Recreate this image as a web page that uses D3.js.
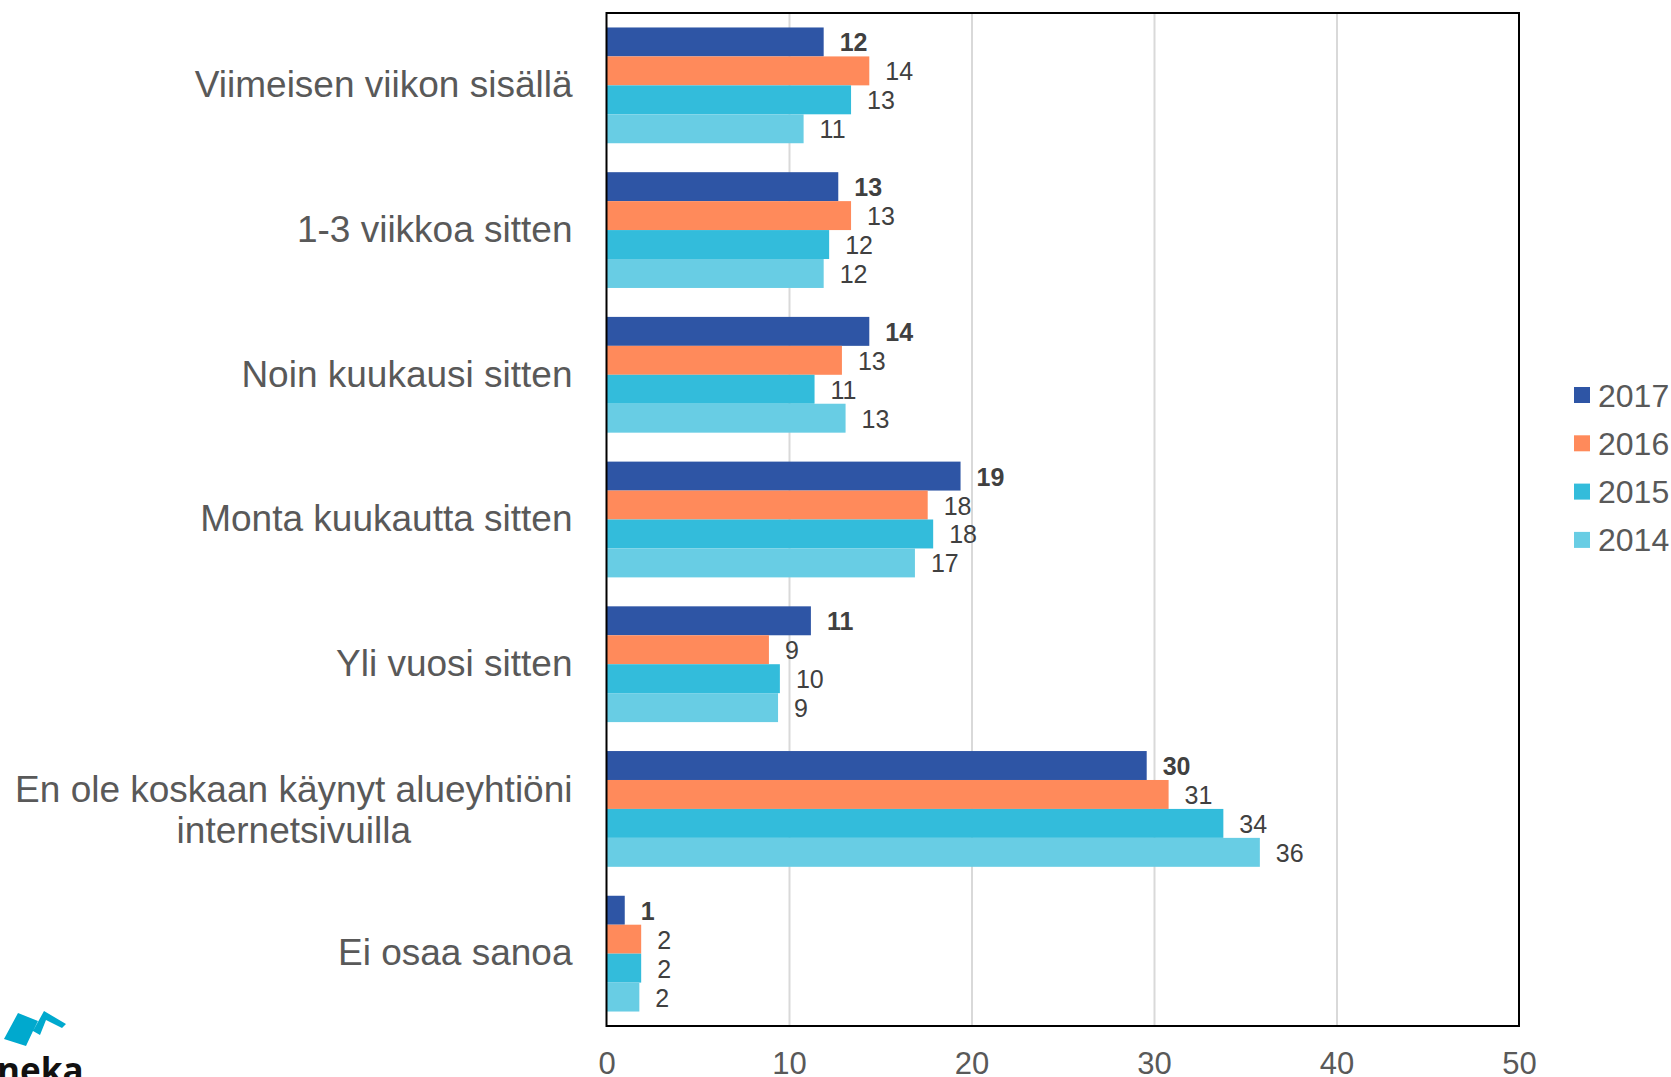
<!DOCTYPE html>
<html>
<head>
<meta charset="utf-8">
<script src="https://cdn.jsdelivr.net/npm/d3@7"></script>
<style>
  body { margin: 0; background: #fff; }
  svg { display: block; font-family: "Liberation Sans", Arial, sans-serif; }
</style>
</head>
<body>
<script>
// kategoriat (ylhäältä alas), rivinvaihto \n
const categories = [
  "Viimeisen viikon sisällä",
  "1-3 viikkoa sitten",
  "Noin kuukausi sitten",
  "Monta kuukautta sitten",
  "Yli vuosi sitten",
  "En ole koskaan käynyt alueyhtiöni\ninternetsivuilla",
  "Ei osaa sanoa"
];
const years = ["2017", "2016", "2015", "2014"];
// prosentit kuvasta luettuna
const v2017 = [11.9, 12.7, 14.4, 19.4, 11.2, 29.6, 1.0];
const v2016 = [14.4, 13.4, 12.9, 17.6, 8.9, 30.8, 1.9];
const v2015 = [13.4, 12.2, 11.4, 17.9, 9.5, 33.8, 1.9];
const v2014 = [10.8, 11.9, 13.1, 16.9, 9.4, 35.8, 1.8];
const xTicks = [0, 10, 20, 30, 40, 50];

const width = 1671, height = 1077;
const margin = {top: 13, right: 152, bottom: 51, left: 606.5};
const colors = ["#2e55a5", "#ff8a5b", "#33bcdb", "#68cde4"];
const seriesVals = [v2017, v2016, v2015, v2014];

const rows = categories.map((c, i) => ({cat: c, vals: years.map((yr, j) => ({year: yr, j: j, value: seriesVals[j][i]}))}));

const x = d3.scaleLinear().domain([0, 50]).range([margin.left, width - margin.right]);
const y = d3.scaleBand().domain(categories).range([margin.top, height - margin.bottom])
  .paddingInner(0.2).paddingOuter(0.1);
const yInner = d3.scaleBand().domain(years).range([0, y.bandwidth()]);
const color = d3.scaleOrdinal().domain(years).range(colors);

const svg = d3.select("body").append("svg").attr("width", width).attr("height", height);

// pystysuorat apuviivat
svg.append("g")
  .attr("transform", `translate(0,${height - margin.bottom})`)
  .call(d3.axisBottom(x).tickValues([10, 20, 30, 40]).tickSize(-(height - margin.bottom - margin.top)).tickFormat(""))
  .call(g => g.select(".domain").remove())
  .call(g => g.selectAll(".tick line").attr("stroke", "#d9d9d9").attr("stroke-width", 2));

// palkit
const grp = svg.append("g").selectAll("g").data(rows).join("g")
  .attr("transform", d => `translate(0,${y(d.cat)})`);

grp.selectAll("rect").data(d => d.vals).join("rect")
  .attr("x", x(0))
  .attr("y", d => yInner(d.year))
  .attr("width", d => x(d.value) - x(0))
  .attr("height", yInner.bandwidth())
  .attr("fill", d => color(d.year));

grp.selectAll("text").data(d => d.vals).join("text")
  .attr("x", d => x(d.value) + 16)
  .attr("y", d => yInner(d.year) + yInner.bandwidth() / 2)
  .attr("dy", "0.38em")
  .attr("font-size", 25)
  .attr("font-weight", d => d.j === 0 ? "bold" : "normal")
  .attr("fill", "#404040")
  .text(d => Math.round(d.value));

// kehys
svg.append("rect")
  .attr("x", margin.left).attr("y", margin.top)
  .attr("width", width - margin.right - margin.left)
  .attr("height", height - margin.bottom - margin.top)
  .attr("fill", "none").attr("stroke", "#000").attr("stroke-width", 2);

// x-akseli
svg.append("g")
  .attr("transform", `translate(0,${height - margin.bottom})`)
  .call(d3.axisBottom(x).tickValues(xTicks).tickSize(0).tickPadding(26))
  .call(g => g.select(".domain").remove())
  .call(g => g.selectAll("text").attr("font-size", 31).attr("fill", "#595959").attr("font-family", null));

// y-akseli (kategoriat)
const pad = 34;
svg.append("g")
  .attr("transform", `translate(${margin.left},0)`)
  .call(d3.axisLeft(y).tickSize(0).tickPadding(pad))
  .call(g => g.select(".domain").remove())
  .call(g => g.selectAll(".tick text").each(function(d) {
    const t = d3.select(this);
    const lines = d.split("\n");
    t.text(null).attr("font-size", 37).attr("fill", "#595959").attr("font-family", null);
    if (lines.length === 1) {
      t.text(lines[0]);
      return;
    }
    lines.forEach((ln, k) => {
      t.append("tspan").attr("x", -pad).attr("dy", k === 0 ? `${-0.56 * (lines.length - 1) + 0.36}em` : "1.12em").text(ln);
    });
    t.attr("dy", null);
    const w = d3.max(t.selectAll("tspan").nodes(), n => n.getComputedTextLength());
    t.attr("text-anchor", "middle");
    t.selectAll("tspan").attr("x", -pad - w / 2);
  }));

// selite
const legend = svg.append("g").selectAll("g").data(years).join("g")
  .attr("transform", (d, i) => `translate(1574,${395 + i * 48.3})`);
legend.append("rect").attr("x", 0).attr("y", -8).attr("width", 16).attr("height", 16).attr("fill", d => color(d));
legend.append("text").attr("x", 24).attr("dy", "0.36em").attr("font-size", 32).attr("fill", "#595959").text(d => d);

// logo vasemmassa alakulmassa (osittain rajattu)
const logo = svg.append("g");
logo.append("path")
  .attr("d", "M4,1039 L18,1013 L38,1021 L33,1031 L26,1046 Z M33,1031 L44,1011 L66,1024 L62,1028 L46,1020 L40,1035 Z")
  .attr("fill", "#00a9ce");
logo.append("text").attr("x", -3).attr("y", 1083)
  .attr("font-family", "'Open Sans', sans-serif").attr("font-weight", "bold").attr("font-size", 35)
  .attr("fill", "#111").text("neka");
</script>
</body>
</html>
